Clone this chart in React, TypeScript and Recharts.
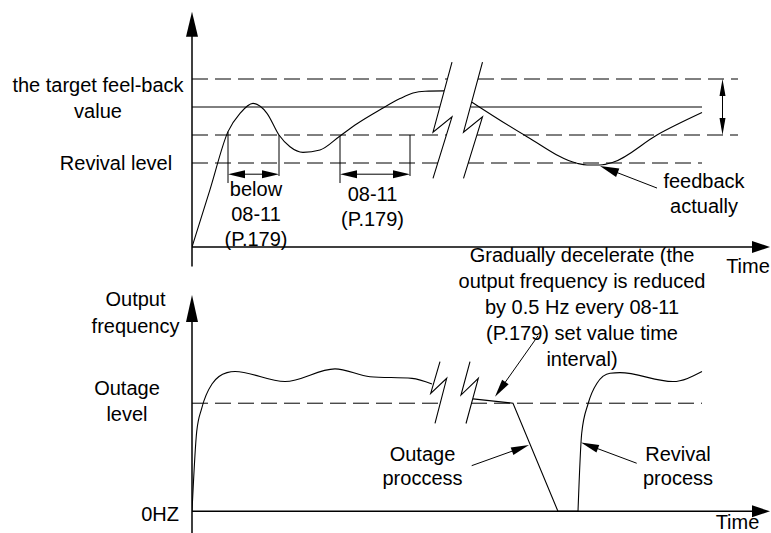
import React from "react";
import { ComposedChart, Line, ReferenceDot, ReferenceLine, XAxis, YAxis } from "recharts";

const WIDTH = 771;
const HEIGHT = 533;
const AXIS_WIDTH = 192;
const FONT = '"Liberation Sans", Arial, Helvetica, sans-serif';
const INK = "#000";
const DASH = "16 7";

// time runs in arbitrary units, shared by both panels
const TIME_DOMAIN = [0, 57.9];

// top panel: feedback, in % of the target value
const FEEDBACK_DOMAIN = [-15, 175];
const BAND_HIGH = 120;
const TARGET = 100;
const BAND_LOW = 80;
const REVIVAL_LEVEL = 60;

const FEEDBACK_RISE = [
  { t: 0, v: 0 },
  { t: 1.8, v: 41 },
  { t: 3.6, v: 82.4 },
  { t: 4.8, v: 95.5 },
  { t: 6.1, v: 102.6 },
  { t: 7.5, v: 95.5 },
  { t: 8.7, v: 80 },
  { t: 9.8, v: 71.6 },
  { t: 11.1, v: 67.6 },
  { t: 12.8, v: 69.3 },
  { t: 14.8, v: 79.3 },
  { t: 16.5, v: 88 },
  { t: 18.8, v: 98 },
  { t: 20.8, v: 106 },
  { t: 22.1, v: 110 },
  { t: 23.3, v: 111.3 },
  { t: 25.2, v: 111.5 },
];

const FEEDBACK_RECOVER = [
  { t: 28, v: 103.4 },
  { t: 33.5, v: 78.8 },
  { t: 38.5, v: 59.8 },
  { t: 39.5, v: 58.6 },
  { t: 40.8, v: 58.6 },
  { t: 42.1, v: 60.5 },
  { t: 46.5, v: 80 },
  { t: 51, v: 96 },
];

// bottom panel: output frequency, Hz
const FREQ_DOMAIN = [-8, 90];
const OUTAGE_LEVEL = 40;

const FREQ_RUN = [
  { t: 0, hz: 0 },
  { t: 0.47, hz: 29.5 },
  { t: 0.97, hz: 38.1 },
  { t: 2.0, hz: 47.1 },
  { t: 3.5, hz: 51.3 },
  { t: 4.3, hz: 51.7 },
  { t: 9.3, hz: 48 },
  { t: 14.3, hz: 52.7 },
  { t: 17.8, hz: 49.8 },
  { t: 22, hz: 49.2 },
  { t: 24, hz: 47.1 },
];

const FREQ_DECEL = [
  { t: 28.1, hz: 41.6 },
  { t: 32.1, hz: 40 },
  { t: 36.6, hz: 0 },
  { t: 38.6, hz: 0 },
];

const FREQ_REVIVAL = [
  { t: 38.6, hz: 0 },
  { t: 38.97, hz: 28.9 },
  { t: 39.6, hz: 39.7 },
  { t: 40.5, hz: 47.4 },
  { t: 41.8, hz: 51.1 },
  { t: 42.8, hz: 51.3 },
  { t: 48.1, hz: 48 },
  { t: 51, hz: 51.7 },
];

// axis break zigzags (two per panel)
const TOP_BREAK_A = [
  { t: 26, v: 132 },
  { t: 24.1, v: 82 },
  { t: 26, v: 93 },
  { t: 24.1, v: 49 },
];
const TOP_BREAK_B = [
  { t: 29.05, v: 132 },
  { t: 27.15, v: 82 },
  { t: 29.05, v: 93 },
  { t: 27.15, v: 49 },
];
const BOTTOM_BREAK_A = [
  { t: 24.8, hz: 55.4 },
  { t: 23.87, hz: 43.6 },
  { t: 25.47, hz: 49.2 },
  { t: 24.3, hz: 32.5 },
];
const BOTTOM_BREAK_B = [
  { t: 27.8, hz: 55.4 },
  { t: 26.9, hz: 43 },
  { t: 28.63, hz: 49.2 },
  { t: 27.4, hz: 32.5 },
];

// level lines are interrupted by the break
const HIGH_SPANS = [[0, 25.5], [28.6, 54.6]];
const TARGET_SPANS = [[0, 24.8], [27.9, 51]];
const LOW_SPANS = [[0, 25.4], [28.5, 54.6]];
const REVIVAL_SPANS = [[0, 24.6], [27.6, 51]];
const OUTAGE_SPANS = [[0, 24.8], [27.9, 51]];

// texts
const TOP_TICK_TEXT: Record<number, string[]> = {
  100: ["the target feel-back", "value"],
  60: ["Revival level"],
};
const BOTTOM_TICK_TEXT: Record<number, string[]> = {
  40: ["Outage", "level"],
  0: ["0HZ"],
};
const NOTE_BELOW = ["below", "08-11", "(P.179)"];
const NOTE_DELAY = ["08-11", "(P.179)"];
const NOTE_FEEDBACK = ["feedback", "actually"];
const NOTE_DECEL = [
  "Gradually decelerate (the",
  "output frequency is reduced",
  "by 0.5 Hz every 08-11",
  "(P.179) set value time",
  "interval)",
];
const NOTE_OUTAGE = ["Outage", "proccess"];
const NOTE_REVIVAL = ["Revival", "process"];
const FREQ_NAME = ["Output", "frequency"];
const TIME_NAME = ["Time"];

type Place = { dx: number; dy: number; anchor: "start" | "middle" | "end" };

const TOP_TICK_PLACE: Record<number, Place> = {
  100: { dx: -94, dy: -15, anchor: "middle" },
  60: { dx: -76, dy: 7, anchor: "middle" },
};
const BOTTOM_TICK_PLACE: Record<number, Place> = {
  40: { dx: -65, dy: -8, anchor: "middle" },
  0: { dx: -13, dy: 10, anchor: "end" },
};

function levelTick(text: Record<number, string[]>, place: Record<number, Place>) {
  return (p: any) => {
    const lines = text[p.payload.value];
    const at = place[p.payload.value];
    if (!lines || !at) return <g />;
    const x = p.x + at.dx;
    return (
      <text x={x} y={p.y + at.dy} textAnchor={at.anchor} fontSize={20} fontFamily={FONT} fill={INK}>
        {lines.map((line, i) => (
          <tspan key={line} x={x} dy={i === 0 ? 0 : 26}>
            {line}
          </tspan>
        ))}
      </text>
    );
  };
}

function noteShape(lines: string[], gap = 25) {
  return (p: any) => (
    <text x={p.cx} y={p.cy} textAnchor="middle" fontSize={20} fontFamily={FONT} fill={INK}>
      {lines.map((line, i) => (
        <tspan key={line} x={p.cx} dy={i === 0 ? 0 : gap}>
          {line}
        </tspan>
      ))}
    </text>
  );
}

function arrowShape(start: boolean, end: boolean, len: number, wide: number) {
  return (p: any) => {
    const { x1, y1, x2, y2, stroke, strokeWidth } = p;
    const dx = x2 - x1;
    const dy = y2 - y1;
    const d = Math.hypot(dx, dy) || 1;
    const ux = dx / d;
    const uy = dy / d;
    const nx = (-uy * wide) / 2;
    const ny = (ux * wide) / 2;
    const head = (tx: number, ty: number, sx: number, sy: number) => {
      const bx = tx - sx * len;
      const by = ty - sy * len;
      return `${tx},${ty} ${bx + nx},${by + ny} ${bx - nx},${by - ny}`;
    };
    const ax = start ? x1 + ux * len * 0.8 : x1;
    const ay = start ? y1 + uy * len * 0.8 : y1;
    const bx = end ? x2 - ux * len * 0.8 : x2;
    const by = end ? y2 - uy * len * 0.8 : y2;
    return (
      <g>
        <line x1={ax} y1={ay} x2={bx} y2={by} stroke={stroke} strokeWidth={strokeWidth} />
        {start && <polygon points={head(x1, y1, -ux, -uy)} fill={stroke} />}
        {end && <polygon points={head(x2, y2, ux, uy)} fill={stroke} />}
      </g>
    );
  };
}

function seg(
  key: string,
  a: { x: number; y: number },
  b: { x: number; y: number },
  width = 1,
  dash?: string,
  shape?: any
) {
  return (
    <ReferenceLine
      key={key}
      segment={[a, b]}
      ifOverflow="visible"
      stroke={INK}
      strokeWidth={width}
      strokeDasharray={dash}
      shape={shape}
    />
  );
}

function spans(name: string, level: number, list: number[][], dash?: string) {
  return list.map(([from, to], i) =>
    seg(`${name}-${i}`, { x: from, y: level }, { x: to, y: level }, 1, dash)
  );
}

function curve(data: any[], key: string, type: "monotone" | "linear" = "monotone") {
  return (
    <Line
      data={data}
      dataKey={key}
      type={type}
      stroke={INK}
      strokeWidth={1.1}
      dot={false}
      activeDot={false}
      isAnimationActive={false}
    />
  );
}

function TopPanel() {
  return (
    <ComposedChart width={WIDTH} height={HEIGHT} margin={{ top: 2, right: 0, bottom: 265, left: 0 }}>
      <XAxis type="number" dataKey="t" domain={TIME_DOMAIN} allowDataOverflow hide />
      <YAxis
        type="number"
        domain={FEEDBACK_DOMAIN}
        allowDataOverflow
        width={AXIS_WIDTH}
        ticks={[TARGET, REVIVAL_LEVEL]}
        interval={0}
        axisLine={false}
        tickLine={false}
        tickSize={0}
        tickMargin={0}
        tick={levelTick(TOP_TICK_TEXT, TOP_TICK_PLACE)}
      />

      {spans("high", BAND_HIGH, HIGH_SPANS, DASH)}
      {spans("target", TARGET, TARGET_SPANS)}
      {spans("low", BAND_LOW, LOW_SPANS, DASH)}
      {spans("revival", REVIVAL_LEVEL, REVIVAL_SPANS, DASH)}

      {/* axes */}
      {seg("y-axis", { x: 0, y: -14 }, { x: 0, y: 168 }, 1.5, undefined, arrowShape(false, true, 25, 12))}
      {seg("x-axis", { x: 0, y: 0 }, { x: 57.8, y: 0 }, 1.5, undefined, arrowShape(false, true, 18, 12))}

      {/* band width marker */}
      {seg("band", { x: 53.05, y: BAND_HIGH }, { x: 53.05, y: BAND_LOW }, 1, undefined, arrowShape(true, true, 17, 6))}

      {/* 08-11 intervals */}
      {seg("d1a", { x: 3.6, y: 82.4 }, { x: 3.6, y: 45.7 })}
      {seg("d1b", { x: 8.7, y: 80 }, { x: 8.7, y: 50.7 })}
      {seg("d1", { x: 3.6, y: 52 }, { x: 8.7, y: 52 }, 1, undefined, arrowShape(true, true, 17, 8))}
      {seg("d2a", { x: 14.8, y: 79.3 }, { x: 14.8, y: 45.7 })}
      {seg("d2b", { x: 21.8, y: 80 }, { x: 21.8, y: 50.7 })}
      {seg("d2", { x: 14.8, y: 52 }, { x: 21.8, y: 52 }, 1, undefined, arrowShape(true, true, 17, 8))}

      {seg("fb-arrow", { x: 46.5, y: 42.1 }, { x: 40.8, y: 57.9 }, 1, undefined, arrowShape(false, true, 19, 9))}

      {curve(FEEDBACK_RISE, "v")}
      {curve(FEEDBACK_RECOVER, "v")}
      {curve(TOP_BREAK_A, "v", "linear")}
      {curve(TOP_BREAK_B, "v", "linear")}

      <ReferenceDot x={6.4} y={36.1} r={0} ifOverflow="visible" shape={noteShape(NOTE_BELOW)} />
      <ReferenceDot x={18.05} y={32.9} r={0} ifOverflow="visible" shape={noteShape(NOTE_DELAY)} />
      <ReferenceDot x={51.2} y={42.1} r={0} ifOverflow="visible" shape={noteShape(NOTE_FEEDBACK)} />
      <ReferenceDot x={55.6} y={-18.6} r={0} ifOverflow="visible" shape={noteShape(TIME_NAME)} />
    </ComposedChart>
  );
}

function BottomPanel() {
  return (
    <ComposedChart width={WIDTH} height={HEIGHT} margin={{ top: 268, right: 0, bottom: 0, left: 0 }}>
      <XAxis type="number" dataKey="t" domain={TIME_DOMAIN} allowDataOverflow hide />
      <YAxis
        type="number"
        domain={FREQ_DOMAIN}
        allowDataOverflow
        width={AXIS_WIDTH}
        ticks={[OUTAGE_LEVEL, 0]}
        interval={0}
        axisLine={false}
        tickLine={false}
        tickSize={0}
        tickMargin={0}
        tick={levelTick(BOTTOM_TICK_TEXT, BOTTOM_TICK_PLACE)}
      />

      {spans("outage", OUTAGE_LEVEL, OUTAGE_SPANS, DASH)}

      {seg("y-axis", { x: 0, y: -8 }, { x: 0, y: 80 }, 1.5, undefined, arrowShape(false, true, 27, 12))}
      {seg("x-axis", { x: 0, y: 0 }, { x: 57.8, y: 0 }, 1.5, undefined, arrowShape(false, true, 18, 12))}

      {seg("decel-arrow", { x: 34.6, y: 64.9 }, { x: 30.3, y: 42.4 }, 1, undefined, arrowShape(false, true, 18, 8))}
      {seg("outage-arrow", { x: 27.97, y: 16.9 }, { x: 33.7, y: 24.5 }, 1, undefined, arrowShape(false, true, 18, 8))}
      {seg("revival-arrow", { x: 44.47, y: 17.8 }, { x: 38.9, y: 25.5 }, 1, undefined, arrowShape(false, true, 18, 8))}

      {curve(FREQ_RUN, "hz")}
      {curve(FREQ_DECEL, "hz", "linear")}
      {curve(FREQ_REVIVAL, "hz")}
      {curve(BOTTOM_BREAK_A, "hz", "linear")}
      {curve(BOTTOM_BREAK_B, "hz", "linear")}

      <ReferenceDot x={-5.65} y={75.8} r={0} ifOverflow="visible" shape={noteShape(FREQ_NAME, 26.5)} />
      <ReferenceDot x={39} y={92.2} r={0} ifOverflow="visible" shape={noteShape(NOTE_DECEL, 26)} />
      <ReferenceDot x={23.05} y={18.6} r={0} ifOverflow="visible" shape={noteShape(NOTE_OUTAGE, 24)} />
      <ReferenceDot x={48.6} y={18.6} r={0} ifOverflow="visible" shape={noteShape(NOTE_REVIVAL, 24)} />
      <ReferenceDot x={54.55} y={-6.6} r={0} ifOverflow="visible" shape={noteShape(TIME_NAME)} />
    </ComposedChart>
  );
}

export default function App() {
  return (
    <div
      style={{
        position: "absolute",
        left: 0,
        top: 0,
        width: WIDTH,
        height: HEIGHT,
        background: "#fff",
        overflow: "hidden",
      }}
    >
      <div style={{ position: "absolute", left: 0, top: 0 }}>
        <TopPanel />
      </div>
      <div style={{ position: "absolute", left: 0, top: 0 }}>
        <BottomPanel />
      </div>
    </div>
  );
}
